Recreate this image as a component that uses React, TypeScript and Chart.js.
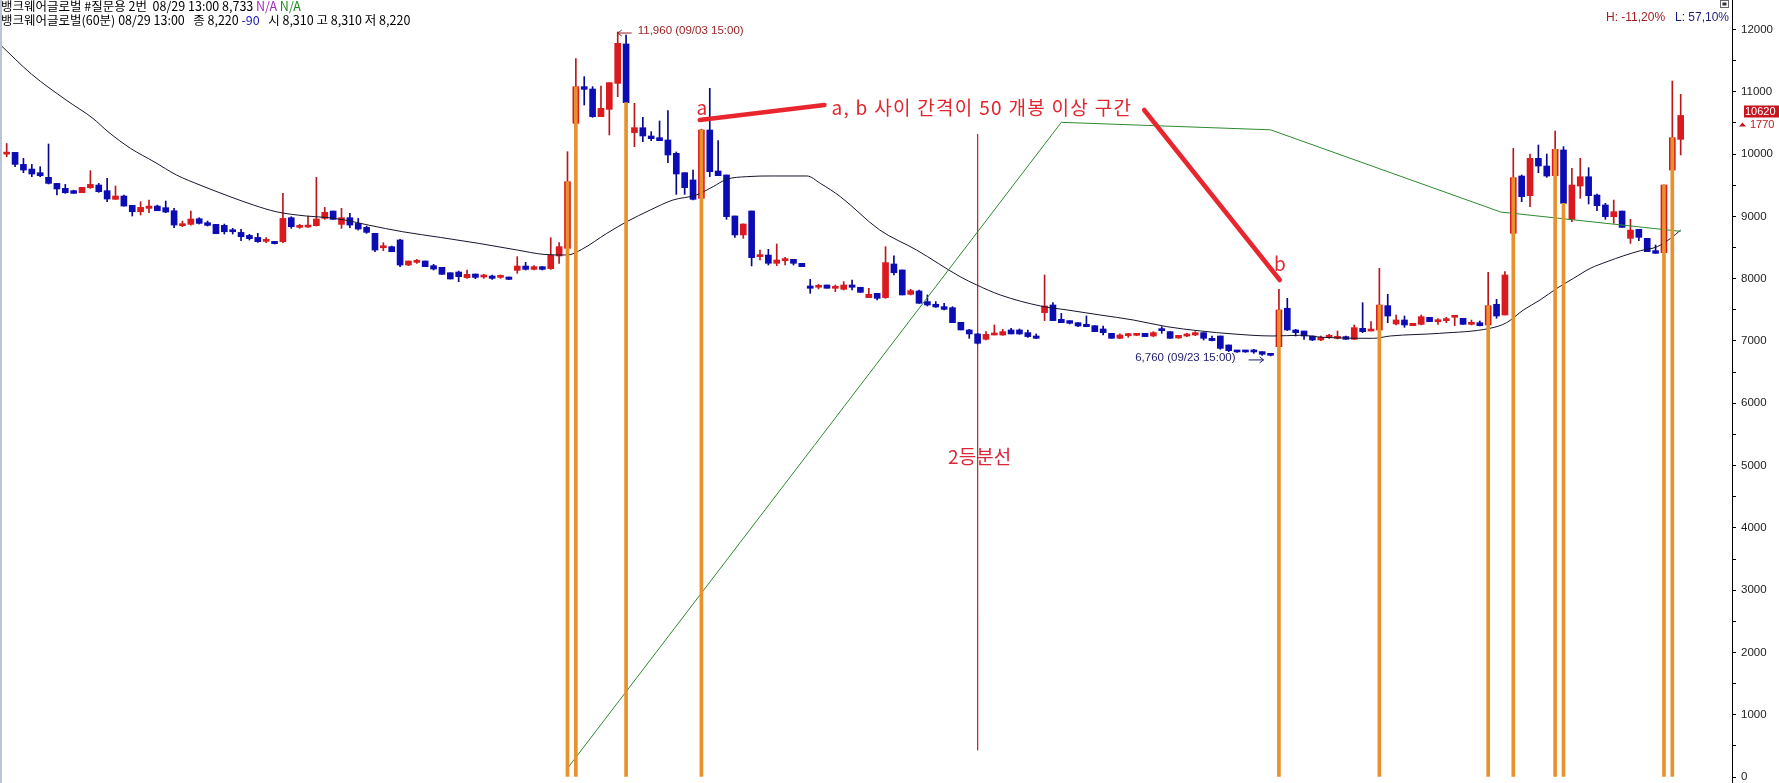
import React, { useEffect, useRef } from "react";
import { Chart, registerables } from "chart.js";

Chart.register(...registerables);

// 60-minute candles, oldest first (index = bar number)
const opens = [
  10000, 10028, 9835, 9760, 9702, 9627, 9530, 9450, 9413, 9380,
  9461, 9504, 9413, 9274, 9327, 9177, 9075, 9129, 9166, 9140,
  9091, 8851, 8872, 8963, 8899, 8872, 8856, 8765, 8743, 8695,
  8663, 8599, 8599, 8594, 8979, 8824, 8829, 8851, 8968, 9086,
  8872, 8979, 8888, 8824, 8728, 8497, 8514, 8621, 8219, 8262,
  8284, 8209, 8182, 8096, 8107, 8016, 8075, 8027, 8043, 8021,
  8027, 8134, 8203, 8150, 8193, 8161, 8364, 8487, 10494, 11083,
  11045, 10601, 10719, 11136, 11768, 10345, 10424, 10291, 10264, 10227,
  10013, 9702, 9585, 9290, 10387, 9729, 9665, 9007, 8702, 9087,
  8354, 8380, 8247, 8290, 8311, 8247, 7883, 7862, 7899, 7846,
  7830, 7899, 7862, 7696, 7765, 7696, 8236, 8140, 7749, 7803,
  7632, 7589, 7551, 7535, 7300, 7177, 7113, 7027, 7096, 7096,
  7177, 7177, 7134, 7080, 7455, 7578, 7348, 7327, 7294, 7268,
  7246, 7193, 7123, 7043, 7086, 7091, 7123, 7080, 7193, 7150,
  7048, 7080, 7096, 7134, 7043, 7080, 6936, 6845, 6845, 6845,
  6829, 6790, 6909, 7525, 7177, 7160, 7080, 7016, 7059, 7043,
  7070, 7027, 7203, 7160, 7176, 7567, 7273, 7337, 7246, 7267,
  7380, 7310, 7326, 7380, 7364, 7267, 7294, 7257, 7588, 7417,
  8728, 9648, 9333, 9932, 9809, 9654, 10066, 8953, 9488, 9637,
  9343, 9183, 8996, 9086, 8648, 8792, 8648, 8450, 8418, 9744,
  10237,
];
const highs = [
  10170, 10028, 9932, 9835, 9798, 10162, 9530, 9514, 9420, 9466,
  9734, 9530, 9611, 9488, 9343, 9177, 9236, 9263, 9182, 9247,
  9129, 8925, 9086, 8979, 8925, 8872, 8877, 8808, 8792, 8712,
  8728, 8658, 8599, 9370, 8995, 8872, 9006, 9627, 9145, 9086,
  9129, 9049, 8968, 8845, 8728, 8578, 8524, 8631, 8284, 8310,
  8284, 8230, 8182, 8096, 8123, 8139, 8075, 8070, 8059, 8059,
  8027, 8353, 8262, 8209, 8193, 8658, 8578, 10039, 11535, 11243,
  11083, 11094, 11147, 11960, 11912, 10815, 10590, 10360, 10532, 10697,
  10034, 9702, 9745, 10400, 11056, 10216, 9665, 9007, 8878, 9087,
  8461, 8471, 8557, 8343, 8311, 8247, 7990, 7910, 7899, 7899,
  7953, 7979, 7862, 7846, 7765, 8514, 8365, 8140, 7830, 7819,
  7739, 7632, 7605, 7551, 7300, 7187, 7123, 7150, 7257, 7187,
  7204, 7193, 7177, 7113, 8059, 7616, 7444, 7327, 7294, 7402,
  7246, 7241, 7123, 7113, 7123, 7123, 7123, 7150, 7230, 7150,
  7091, 7123, 7150, 7134, 7080, 7080, 6936, 6850, 6850, 6866,
  6829, 6790, 7830, 7685, 7187, 7160, 7080, 7080, 7107, 7160,
  7080, 7257, 7615, 7310, 8166, 7749, 7417, 7401, 7283, 7417,
  7380, 7358, 7380, 7401, 7364, 7337, 7321, 8102, 7668, 8113,
  10092, 9665, 10001, 10146, 10001, 10370, 10119, 9771, 9932, 9782,
  9360, 9210, 9263, 9086, 8953, 8792, 8648, 8541, 9504, 11173,
  10959,
];
const lows = [
  9958, 9798, 9702, 9637, 9637, 9520, 9343, 9370, 9370, 9380,
  9450, 9386, 9236, 9274, 9166, 9006, 9022, 9059, 9091, 9059,
  8819, 8835, 8861, 8877, 8845, 8722, 8717, 8717, 8610, 8621,
  8583, 8578, 8556, 8578, 8808, 8808, 8824, 8845, 8952, 8952,
  8808, 8819, 8781, 8728, 8433, 8449, 8433, 8193, 8209, 8246,
  8193, 8139, 8070, 7995, 7952, 8005, 8000, 8005, 7989, 8005,
  7984, 8086, 8139, 8139, 8139, 8150, 8246, 8487, 10494, 10788,
  10590, 10601, 10307, 10922, 10815, 10120, 10200, 10216, 10216, 9863,
  9354, 9354, 9264, 9280, 9638, 9654, 8953, 8664, 8648, 8204,
  8300, 8220, 8210, 8220, 8220, 8193, 7765, 7835, 7846, 7792,
  7819, 7819, 7781, 7696, 7658, 7685, 8060, 7739, 7739, 7605,
  7562, 7540, 7498, 7294, 7177, 7043, 6952, 7016, 7096, 7091,
  7113, 7107, 7059, 7038, 7327, 7327, 7294, 7273, 7230, 7230,
  7150, 7096, 7043, 7038, 7059, 7086, 7070, 7070, 7123, 7043,
  7043, 7070, 7086, 7016, 7000, 6866, 6829, 6818, 6818, 6802,
  6770, 6760, 6909, 7166, 7080, 7026, 7005, 7005, 7043, 7032,
  7027, 7027, 7134, 7160, 7176, 7294, 7257, 7219, 7246, 7257,
  7310, 7267, 7294, 7246, 7267, 7257, 7241, 7257, 7364, 7417,
  8728, 9236, 9156, 9702, 9627, 9654, 9210, 8915, 9290, 9199,
  9092, 8953, 8888, 8824, 8567, 8610, 8434, 8407, 8418, 9744,
  9986,
];
const closes = [
  10020, 9835, 9744, 9680, 9653, 9530, 9440, 9380, 9370, 9466,
  9514, 9397, 9279, 9327, 9166, 9075, 9145, 9166, 9091, 9070,
  8861, 8872, 8958, 8888, 8856, 8722, 8754, 8754, 8674, 8642,
  8594, 8615, 8562, 8968, 8835, 8845, 8851, 8958, 9065, 8952,
  8979, 8861, 8797, 8744, 8460, 8514, 8433, 8219, 8284, 8278,
  8193, 8155, 8070, 7995, 8032, 8070, 8021, 8043, 8005, 8043,
  7989, 8203, 8150, 8193, 8150, 8375, 8514, 9557, 11082, 11040,
  10601, 10735, 11147, 11778, 10826, 10424, 10291, 10248, 10216, 9986,
  9681, 9462, 9274, 10387, 9718, 9654, 8996, 8702, 8878, 8338,
  8380, 8247, 8300, 8316, 8247, 8193, 7846, 7883, 7846, 7872,
  7899, 7862, 7781, 7749, 7685, 8258, 8097, 7739, 7808, 7605,
  7578, 7546, 7508, 7294, 7177, 7113, 6963, 7107, 7123, 7150,
  7113, 7113, 7070, 7043, 7562, 7327, 7294, 7284, 7241, 7230,
  7150, 7134, 7043, 7096, 7107, 7113, 7070, 7134, 7166, 7043,
  7091, 7107, 7134, 7043, 7006, 6882, 6845, 6824, 6824, 6824,
  6786, 6770, 7498, 7177, 7134, 7080, 7016, 7059, 7070, 7070,
  7027, 7214, 7150, 7176, 7577, 7401, 7337, 7257, 7283, 7390,
  7310, 7337, 7348, 7396, 7267, 7294, 7246, 7567, 7401, 8059,
  9622, 9317, 9932, 9809, 9648, 10076, 9210, 9504, 9637, 9333,
  9172, 8996, 9076, 8824, 8781, 8664, 8434, 8407, 9504, 10264,
  10620,
];

// bars flagged by the signal (drawn as orange columns from 0 to the close)
const signalIdx = [67, 68, 74, 83, 152, 164, 177, 180, 185, 186, 198, 199];

// moving average (black)
const maX = [
  -0.8, 3, 7.1, 10.3, 12.1, 14.8, 17.6, 20.3, 23.1, 26.7, 29.5, 32.2, 35.8, 38.1, 40.4,
  43.2, 47.3, 51.8, 56.4, 61, 64.2, 67, 68.7, 71.7, 74.1, 76.9, 79.6, 82.4, 84.4, 86,
  88.4, 91.6, 95.6, 97.2, 99.6, 104.3, 108.7, 113.9, 115.9, 118.7, 123.5, 126.7, 130.6,
  134.6, 138.6, 142.6, 146.5, 151.3, 154.5, 157.3, 163.3, 165.3, 171.2, 177.2, 179.2,
  181.2, 183.2, 185.2, 187.2, 189.2, 191.2, 193.2, 195.2, 197.2, 198.8, 200,
];
const maY = [
  11760, 11280, 10868, 10574, 10360, 10092, 9878, 9664, 9503, 9316, 9182, 9075, 9006, 8984, 8942,
  8861, 8754, 8663, 8567, 8460, 8390, 8380, 8470, 8728, 8916, 9103, 9263, 9344, 9478, 9595,
  9638, 9649, 9649, 9531, 9317, 8782, 8461, 8033, 7899, 7739, 7562, 7498, 7418,
  7337, 7230, 7161, 7113, 7080, 7091, 7059, 7043, 7080, 7123, 7203, 7294,
  7497, 7658, 7845, 8006, 8166, 8273, 8369, 8450, 8514, 8648, 8782,
];

// green trend line vertices
const trendX = [67, 126, 151, 178.5, 200];
const trendY = [140, 10510, 10390, 9070, 8760];

// midpoint marker between a and b
const midIdx = 116;
const midRange = [10320, 430];

// hand-drawn red marker strokes
const noteAX = [82.8, 97.7];
const noteAY = [10548, 10788];
const noteBX = [135.9, 152.1];
const noteBY = [10708, 7979];

const yTickValues = Array.from({ length: 25 }, (_, k) => k * 500);
const changeFromPrev = 1770;
const peakTime = "09/03 15:00";
const troughTime = "09/23 15:00";

// header rows: [text, colour] segments
const headerRow1: [string, string][] = [
  ["뱅크웨어글로벌 #질문용 2번  08/29 13:00 8,733 ", "#000"],
  ["N/A", "#a12cc0"],
  [" ", "#000"],
  ["N/A", "#1f8a1f"],
];
const headerRow2: [string, string][] = [
  ["뱅크웨어글로벌(60분) 08/29 13:00   종 8,220 ", "#000"],
  ["-90", "#1a1ab8"],
  ["   시 8,310 고 8,310 저 8,220", "#000"],
];

const FONT_KR = '"Noto Sans CJK KR", "Noto Sans", sans-serif';
const FONT_NUM = '"Liberation Sans", Arial, sans-serif';

const UP_BODY = "#da1a1e";
const DOWN_BODY = "#0c0cb4";
const UP_WICK = "#b8181c";
const DOWN_WICK = "#08088c";

const fmt = (n: number) => n.toLocaleString("en-US");
const pct = (n: number) => n.toFixed(2).replace(".", ",");

const setSpacing = (ctx: any, v: string) => {
  try {
    ctx.letterSpacing = v;
  } catch (e) {
    /* older canvas */
  }
};

const drawRow = (ctx: any, row: [string, string][], x0: number, y: number) => {
  let x = x0;
  for (const [text, color] of row) {
    ctx.fillStyle = color;
    ctx.fillText(text, x, y);
    x += ctx.measureText(text).width;
  }
};

const overlayPlugin = {
  id: "overlay",
  afterDatasetsDraw(chart: any) {
    const { ctx, scales } = chart;
    const xs = scales.x;
    const ys = scales.y;
    const px = (v: number) => xs.getPixelForValue(v);
    const py = (v: number) => ys.getPixelForValue(v);
    ctx.save();

    // highest high
    const maxHigh = Math.max(...highs);
    const hi = highs.indexOf(maxHigh);
    const hx = px(hi);
    const hy = py(maxHigh);
    ctx.strokeStyle = "#9b2226";
    ctx.lineWidth = 1;
    ctx.beginPath();
    ctx.moveTo(hx, hy + 1);
    ctx.lineTo(hx + 14, hy + 1);
    ctx.moveTo(hx, hy + 1);
    ctx.lineTo(hx + 4, hy - 2);
    ctx.moveTo(hx, hy + 1);
    ctx.lineTo(hx + 4, hy + 4);
    ctx.stroke();
    ctx.fillStyle = "#9b2226";
    ctx.font = `11.5px ${FONT_NUM}`;
    ctx.textBaseline = "middle";
    ctx.textAlign = "left";
    ctx.fillText(`${fmt(maxHigh)} (${peakTime})`, hx + 20, hy - 1);

    // lowest low
    const minLow = Math.min(...lows);
    const li = lows.indexOf(minLow);
    const lx = px(li);
    const ly = py(minLow);
    ctx.strokeStyle = "#1c1c6e";
    ctx.beginPath();
    ctx.moveTo(lx - 22, ly + 4);
    ctx.lineTo(lx - 7, ly + 4);
    ctx.moveTo(lx - 7, ly + 4);
    ctx.lineTo(lx - 11, ly + 1);
    ctx.moveTo(lx - 7, ly + 4);
    ctx.lineTo(lx - 11, ly + 7);
    ctx.stroke();
    ctx.fillStyle = "#1c1c6e";
    ctx.textAlign = "right";
    ctx.fillText(`${fmt(minLow)} (${troughTime})`, lx - 35, ly + 2);

    // a / b labels and note
    ctx.fillStyle = "#e2262e";
    ctx.font = `19px ${FONT_KR}`;
    ctx.textAlign = "center";
    ctx.fillText("a", px(noteAX[0]) + 2, py(noteAY[0]) - 12);
    ctx.fillText("b", px(noteBX[1]), py(noteBY[1]) - 16);
    ctx.textAlign = "left";
    setSpacing(ctx, "1.3px");
    ctx.fillText("a, b 사이 간격이 50 개봉 이상 구간", px(noteAX[1]) + 7, py(noteAY[1]) + 3);
    setSpacing(ctx, "0px");

    ctx.fillStyle = "#d8283a";
    ctx.textAlign = "center";
    ctx.font = `19px ${FONT_KR}`;
    ctx.fillText("2등분선", px(midIdx) + 2, py(5140));

    ctx.restore();
  },
  afterDraw(chart: any) {
    const { ctx, scales, chartArea } = chart;
    const ys = scales.y;
    ctx.save();

    // left frame edge
    ctx.fillStyle = "#b9c6d6";
    ctx.fillRect(0, 0, 2, chart.height);

    // header rows
    ctx.textBaseline = "middle";
    ctx.textAlign = "left";
    ctx.font = `12.5px ${FONT_KR}`;
    drawRow(ctx, headerRow1, 1, 6);
    drawRow(ctx, headerRow2, 1, 20);

    // distance from extremes
    const last = closes[closes.length - 1];
    const maxHigh = Math.max(...highs);
    const minLow = Math.min(...lows);
    ctx.font = `12px ${FONT_NUM}`;
    ctx.fillStyle = "#a31c22";
    ctx.fillText(`H: ${pct(((last - maxHigh) / maxHigh) * 100)}%`, 1606, 18);
    ctx.fillStyle = "#1c1c7a";
    ctx.fillText(`L: ${pct(((last - minLow) / minLow) * 100)}%`, 1675, 18);

    // small window icon
    ctx.strokeStyle = "#666";
    ctx.lineWidth = 1;
    ctx.strokeRect(1720.5, 0.5, 8, 7);
    ctx.fillStyle = "#333";
    ctx.fillRect(1722.5, 2.5, 4, 3);

    // last price tag
    const ty = ys.getPixelForValue(last) - 4;
    const ax = chartArea.right;
    ctx.fillStyle = "#c8141e";
    ctx.fillRect(ax + 12, ty - 6, 35, 12);
    ctx.fillStyle = "#fff";
    ctx.font = `11px ${FONT_NUM}`;
    ctx.fillText(String(last), ax + 13, ty + 0.5);
    ctx.fillStyle = "#c8141e";
    ctx.beginPath();
    ctx.moveTo(ax + 7, ty + 15);
    ctx.lineTo(ax + 14, ty + 15);
    ctx.lineTo(ax + 10.5, ty + 11);
    ctx.closePath();
    ctx.fill();
    ctx.fillText(String(changeFromPrev), ax + 18, ty + 13);

    ctx.restore();
  },
};

export default function App() {
  const ref = useRef<HTMLCanvasElement>(null);

  useEffect(() => {
    document.body.style.margin = "0";
    document.body.style.background = "#fff";
    const canvas = ref.current;
    if (!canvas) return;

    const idx = closes.map((_, i) => i);
    const up = idx.map((i) => closes[i] >= opens[i]);
    const wickData = idx.map((i) => ({ x: i, y: [lows[i], highs[i]] }));
    const bodyData = idx.map((i) => ({ x: i, y: [opens[i], closes[i]] }));
    const signalData = signalIdx.map((i) => ({ x: i, y: closes[i] }));
    const maData = maX.map((x, k) => ({ x, y: maY[k] }));
    const trendData = trendX.map((x, k) => ({ x, y: trendY[k] }));

    const xMin = -0.8;
    const xMax = 206.13;

    const chart = new Chart(canvas, {
      type: "bar",
      data: {
        datasets: [
          {
            type: "line",
            label: "mid",
            data: [
              { x: midIdx, y: midRange[0] },
              { x: midIdx, y: midRange[1] },
            ],
            borderColor: "#c8282e",
            borderWidth: 1,
            pointRadius: 0,
            order: 7,
          } as any,
          {
            type: "bar",
            label: "wick",
            data: wickData as any,
            backgroundColor: up.map((u) => (u ? UP_WICK : DOWN_WICK)),
            barThickness: 1,
            grouped: false,
            order: 6,
          } as any,
          {
            type: "bar",
            label: "body",
            data: bodyData as any,
            backgroundColor: up.map((u) => (u ? UP_BODY : DOWN_BODY)),
            barThickness: 6,
            minBarLength: 2,
            grouped: false,
            order: 5,
          } as any,
          {
            type: "line",
            label: "ma",
            data: maData,
            borderColor: "#15152e",
            borderWidth: 1,
            pointRadius: 0,
            cubicInterpolationMode: "monotone",
            order: 4,
          } as any,
          {
            type: "line",
            label: "trend",
            data: trendData,
            borderColor: "#2d8a2d",
            borderWidth: 1,
            pointRadius: 0,
            tension: 0,
            order: 3,
          } as any,
          {
            type: "bar",
            label: "signal",
            data: signalData as any,
            backgroundColor: "#e8922e",
            barThickness: 3,
            grouped: false,
            order: 2,
          } as any,
          {
            type: "line",
            label: "noteA",
            data: noteAX.map((x, k) => ({ x, y: noteAY[k] })),
            borderColor: "#e8262e",
            borderWidth: 4.5,
            borderCapStyle: "round",
            pointRadius: 0,
            order: 1,
          } as any,
          {
            type: "line",
            label: "noteB",
            data: noteBX.map((x, k) => ({ x, y: noteBY[k] })),
            borderColor: "#e8262e",
            borderWidth: 4.5,
            borderCapStyle: "round",
            pointRadius: 0,
            order: 1,
          } as any,
        ],
      },
      options: {
        animation: false,
        responsive: false,
        devicePixelRatio: 1,
        events: [],
        layout: { padding: 0 },
        plugins: {
          legend: { display: false },
          tooltip: { enabled: false },
        },
        scales: {
          x: {
            type: "linear",
            display: false,
            min: xMin,
            max: xMax,
            offset: false,
          },
          y: {
            type: "linear",
            position: "right",
            min: -96,
            max: 12474,
            afterBuildTicks: (s: any) => {
              s.ticks = yTickValues.map((v) => ({ value: v }));
            },
            afterFit: (s: any) => {
              s.width = 47;
              s.paddingTop = 0;
              s.paddingBottom = 0;
            },
            grid: {
              drawOnChartArea: false,
              drawTicks: true,
              tickLength: 4,
              tickColor: "#000",
              color: "#000",
            },
            border: { display: true, color: "#000", width: 1 },
            ticks: {
              padding: 5,
              color: "#222",
              autoSkip: false,
              font: { family: FONT_NUM, size: 11.5 },
              callback: (v: any) => (Number(v) % 1000 === 0 ? String(v) : ""),
            },
          },
        },
      } as any,
      plugins: [overlayPlugin],
    });

    return () => chart.destroy();
  }, []);

  return (
    <div style={{ position: "relative", width: 1779, height: 783, background: "#fff" }}>
      <canvas ref={ref} width={1779} height={783} style={{ display: "block" }} />
    </div>
  );
}
